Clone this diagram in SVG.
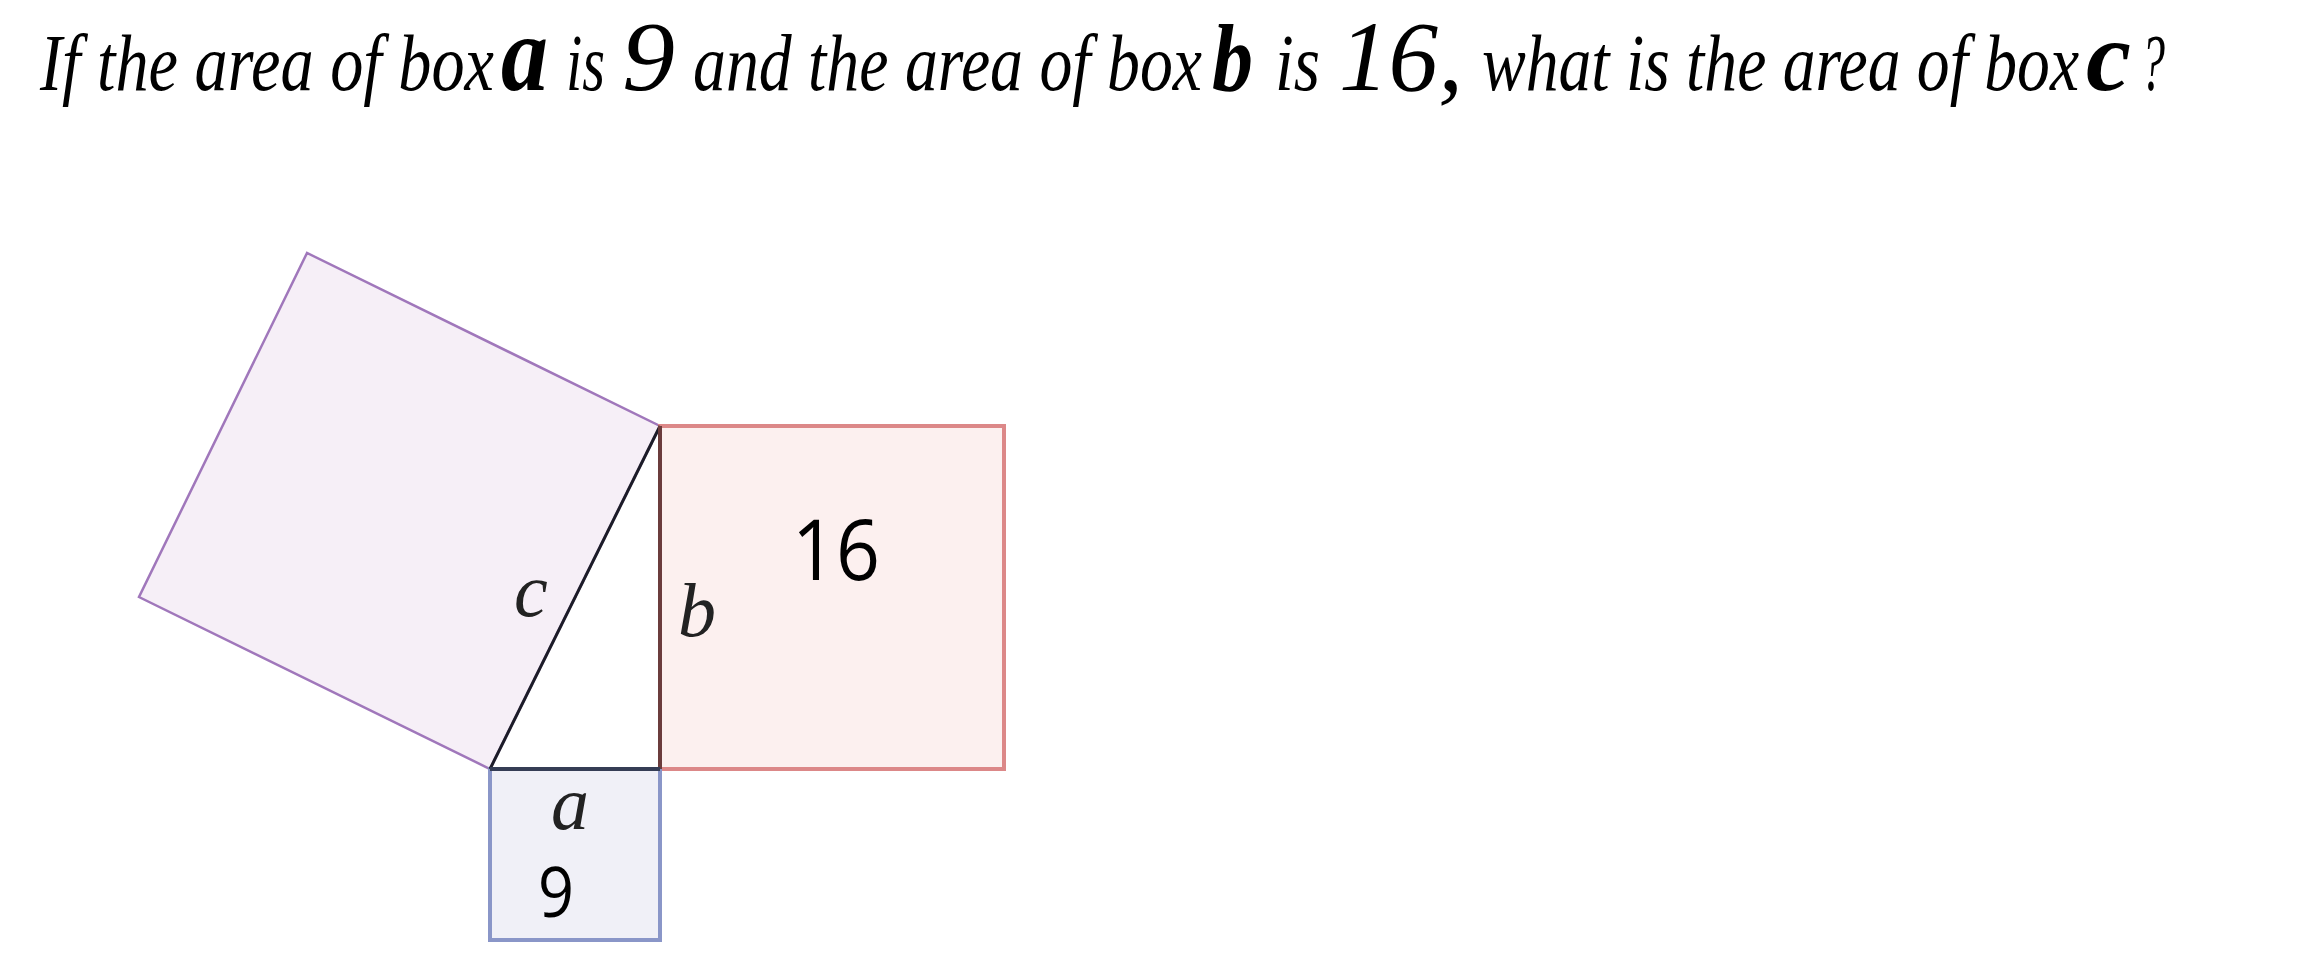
<svg xmlns="http://www.w3.org/2000/svg" width="2312" height="980" viewBox="0 0 2312 980">
<style>
.t{font-family:"Liberation Serif","Times New Roman",serif;font-style:italic;fill:#000}
.tb{font-family:"Liberation Serif","Times New Roman",serif;font-style:italic;font-weight:bold;fill:#000}
.lbl{font-family:"Liberation Serif","Times New Roman",serif;font-style:italic;fill:#222;font-size:76px}
.num{font-family:"Open Sans","Liberation Sans",sans-serif;fill:#000}
</style>
<rect width="2312" height="980" fill="#fff"/>
<g id="title">
<text class="t" x="40" y="90" font-size="80" textLength="454" lengthAdjust="spacingAndGlyphs">If the area of box</text>
<text class="tb" x="501" y="90" font-size="108" textLength="47" lengthAdjust="spacingAndGlyphs">a</text>
<text class="t" x="566" y="90" font-size="80" textLength="39" lengthAdjust="spacingAndGlyphs">is</text>
<text class="t" x="622" y="90" font-size="100" textLength="53" lengthAdjust="spacingAndGlyphs">9</text>
<text class="t" x="693" y="90" font-size="80" textLength="509" lengthAdjust="spacingAndGlyphs">and the area of box</text>
<text class="tb" x="1212" y="90" font-size="96" textLength="41" lengthAdjust="spacingAndGlyphs">b</text>
<text class="t" x="1275" y="90" font-size="80" textLength="45" lengthAdjust="spacingAndGlyphs">is</text>
<text class="t" x="1339" y="90" font-size="100" textLength="124" lengthAdjust="spacingAndGlyphs">16,</text>
<text class="t" x="1482" y="90" font-size="80" textLength="597" lengthAdjust="spacingAndGlyphs">what is the area of box</text>
<text class="tb" x="2086" y="90" font-size="100" textLength="45" lengthAdjust="spacingAndGlyphs">c</text>
<text class="t" x="2141" y="90" font-size="80" textLength="24" lengthAdjust="spacingAndGlyphs">?</text>
</g>
<g id="box-c">
<polygon points="307,253 139,597 490,769 660,426" fill="#f6eff7" stroke="#a077bb" stroke-width="2.5"/>
</g>
<g id="box-b">
<rect x="660" y="426" width="344" height="343" fill="#fcf0ef" stroke="#dc8888" stroke-width="4"/>
<text class="num" x="792" y="580" font-size="84" textLength="88" lengthAdjust="spacingAndGlyphs">16</text>
</g>
<g id="box-a">
<rect x="490" y="769" width="170" height="171" fill="#f0f0f7" stroke="#8a96c8" stroke-width="4"/>
<text class="num" x="538" y="917" font-size="70" textLength="36" lengthAdjust="spacingAndGlyphs">9</text>
</g>
<g id="triangle">
<line x1="490" y1="769" x2="660" y2="426" stroke="#1c1c28" stroke-width="3"/>
<line x1="660" y1="426" x2="660" y2="769" stroke="#6b3c3c" stroke-width="4"/>
<line x1="490" y1="769" x2="660" y2="769" stroke="#353d55" stroke-width="4"/>
<text class="lbl" x="514" y="616">c</text>
<text class="lbl" x="678" y="636">b</text>
<text class="lbl" x="551" y="829">a</text>
</g>
</svg>
